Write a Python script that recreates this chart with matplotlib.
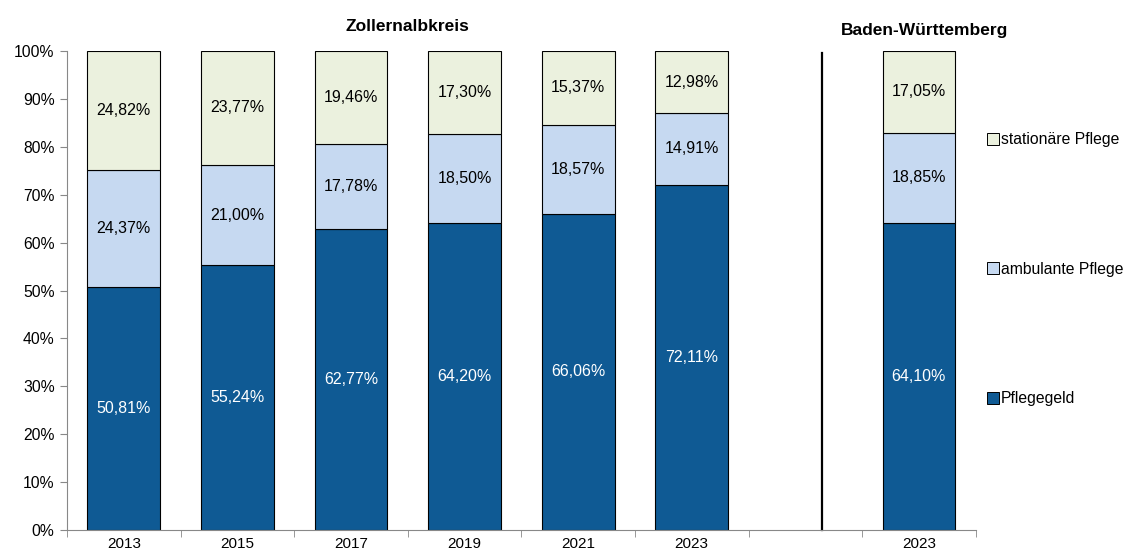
import matplotlib.pyplot as plt
from matplotlib.lines import Line2D
import matplotlib.transforms as mtransforms

plt.rcParams['font.family'] = ['Liberation Sans', 'DejaVu Sans']

categories = ["2013", "2015", "2017", "2019", "2021", "2023", "", "2023"]
pflegegeld = [50.81, 55.24, 62.77, 64.20, 66.06, 72.11, None, 64.10]
ambulant = [24.37, 21.00, 17.78, 18.50, 18.57, 14.91, None, 18.85]
stationaer = [24.82, 23.77, 19.46, 17.30, 15.37, 12.98, None, 17.05]
series_names = ["Pflegegeld", "ambulante Pflege", "stationäre Pflege"]
colors = ["#0F5A94", "#C6D9F1", "#EBF1DE"]
text_colors = ["white", "black", "black"]

fig = plt.figure(figsize=(11.28, 5.55), dpi=100)
ax = fig.add_axes([0.0594, 0.045, 0.8056, 0.863])

x = [i for i, v in enumerate(pflegegeld) if v is not None]
bottom = [0.0] * len(x)
handles = []
for vals, name, col, tc in zip([pflegegeld, ambulant, stationaer], series_names, colors, text_colors):
    h = [vals[i] for i in x]
    ax.bar(x, h, bottom=bottom, width=0.64, color=col, edgecolor="black", linewidth=0.8, label=name)
    for xi, b, v in zip(x, bottom, h):
        ax.text(xi, b + v / 2, f"{v:.2f}%".replace(".", ","), ha="center", va="center",
                color=tc, fontsize=11.5)
    bottom = [b + v for b, v in zip(bottom, h)]
    handles.append(Line2D([], [], marker="s", linestyle="none", markersize=8,
                          markerfacecolor=col, markeredgecolor="black", markeredgewidth=0.7))

ax.set_xlim(-0.5, len(categories) - 0.5)
ax.set_ylim(0, 100)
ax.set_yticks(range(0, 101, 10))
ax.set_yticklabels([f"{v}%" for v in range(0, 101, 10)])
ax.set_xticks(range(len(categories)))
ax.set_xticklabels(categories)
ax.set_xticks([i - 0.5 for i in range(len(categories) + 1)], minor=True)
ax.tick_params(axis="x", which="major", length=0, pad=5, labelsize=11)
ax.tick_params(axis="x", which="minor", length=5, color="#888888")
ax.tick_params(axis="y", length=5, color="#888888", labelsize=11.3, pad=4)
for s in ["top", "right"]:
    ax.spines[s].set_visible(False)
for s in ["left", "bottom"]:
    ax.spines[s].set_color("#888888")

# divider between district and state
ax.plot([6.15, 6.15], [0, 99.5], color="black", linewidth=1.6, clip_on=False)

trans = mtransforms.blended_transform_factory(ax.transData, fig.transFigure)
ax.text(2.5, 0.952, "Zollernalbkreis", transform=trans, ha="center", va="center",
        fontsize=12.5, fontweight="bold")
ax.text(7.05, 0.945, "Baden-Württemberg", transform=trans, ha="center", va="center",
        fontsize=12.5, fontweight="bold")

fig.legend(handles[::-1], series_names[::-1], loc="upper left", bbox_to_anchor=(0.868, 0.773),
           frameon=False, fontsize=11.3, labelspacing=7.3, handletextpad=0.0,
           handlelength=1.0, borderaxespad=0)

fig.savefig("out.png", dpi=100)
